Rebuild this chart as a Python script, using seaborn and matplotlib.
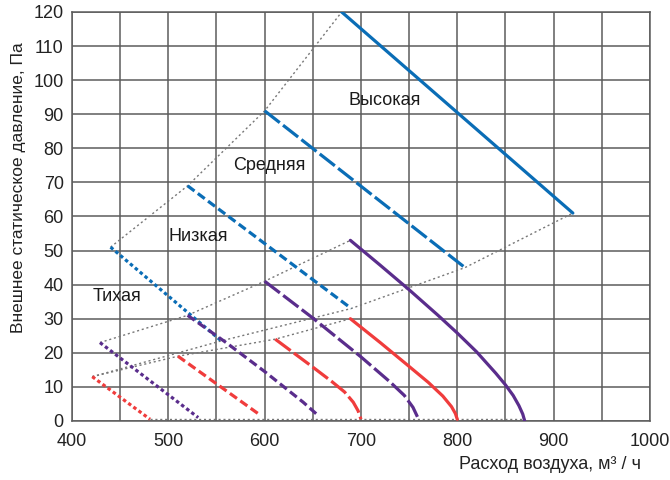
import numpy as np
import pandas as pd
import matplotlib
matplotlib.use("Agg")
import matplotlib.pyplot as plt
import seaborn as sns

# Data (air flow m3/h, static pressure Pa)
speeds = ["Тихая", "Низкая", "Средняя", "Высокая"]

# blue set (straight lines)
blue_x = {"Высокая": [680, 920], "Средняя": [600, 808],
          "Низкая": [520, 690], "Тихая": [440, 555]}
blue_y = {"Высокая": [120, 61], "Средняя": [91, 45],
          "Низкая": [69, 33], "Тихая": [51, 23.5]}

# purple set
purple_x = {"Высокая": [689, 720, 750, 780, 800, 820, 840, 850, 858, 864, 868, 870],
            "Средняя": [600, 650, 700, 730, 745, 754, 759],
            "Низкая": [520, 560, 600, 640, 656],
            "Тихая": [429, 531]}
purple_y = {"Высокая": [53, 45.7, 38.5, 31, 25.8, 20.3, 14, 10.6, 7.5, 4.5, 2, 0],
            "Средняя": [41, 30.2, 18.8, 11.5, 7.5, 4, 1],
            "Низкая": [31, 23, 14.5, 5.5, 1.5],
            "Тихая": [23, 1]}

# red set
red_x = {"Высокая": [689, 720, 750, 770, 785, 794, 798, 800],
         "Средняя": [611, 630, 650, 670, 683, 692, 697, 700],
         "Низкая": [510, 594],
         "Тихая": [421, 481]}
red_y = {"Высокая": [30, 23, 16, 11.3, 7.3, 4.2, 2.2, 0.5],
         "Средняя": [24, 20, 15.8, 11.5, 8.5, 5.5, 3, 0.5],
         "Низкая": [19, 2],
         "Тихая": [13, 0.5]}

# gray dotted envelopes
env_blue_start_x = [440, 520, 600, 680]
env_blue_start_y = [51, 69, 91, 120]
env_blue_end_x = [421, 555, 690, 808, 920]
env_blue_end_y = [13, 23.5, 33, 45, 61]
env_purple_x = [429, 520, 600, 689]
env_purple_y = [23, 31, 41, 53]
env_red_x = [421, 510, 611, 689]
env_red_y = [13, 19, 24, 30]
env_bottom_x = [481, 870]
env_bottom_y = [0.6, 0.6]

label_x = [447, 531, 605, 725]
label_y = [36.5, 54, 75, 94]

colors = {"blue": "#0a6db6", "purple": "#5a2d8c", "red": "#f03c3c"}
styles = {"Высокая": "-", "Средняя": (0, (6, 1.3)),
          "Низкая": (0, (2.7, 1.3)), "Тихая": (0, (1.1, 0.9))}

sns.set_theme(style="white")
plt.rcParams['font.family'] = ['Liberation Sans', 'DejaVu Sans']

fig = plt.figure(figsize=(6.7, 4.8), dpi=100)
ax = fig.add_axes([0.1075, 0.123, 0.8625, 0.852])

grid_c = "#5c5c5c"
for x in np.arange(400, 1001, 50):
    ax.axvline(x, color=grid_c, lw=1.1, zorder=1)
for y in np.arange(0, 121, 10):
    ax.axhline(y, color=grid_c, lw=1.1, zorder=1)

env_style = dict(color="#777777", lw=1.0, linestyle=(0, (1.5, 2.0)))
for ex, ey in [(env_blue_start_x, env_blue_start_y), (env_blue_end_x, env_blue_end_y),
               (env_purple_x, env_purple_y), (env_red_x, env_red_y),
               (env_bottom_x, env_bottom_y)]:
    sns.lineplot(x=ex, y=ey, sort=False, estimator=None, ax=ax, zorder=2, **env_style)

for xs, ys, c in [(blue_x, blue_y, "blue"), (purple_x, purple_y, "purple"), (red_x, red_y, "red")]:
    for s in speeds:
        sns.lineplot(x=xs[s], y=ys[s], sort=False, estimator=None, ax=ax,
                     color=colors[c], lw=2.3, linestyle=styles[s], zorder=3)

for s, lx, ly in zip(speeds, label_x, label_y):
    ax.text(lx, ly, s, ha="center", va="center", fontsize=13, color="#1a1a1a", zorder=4)

ax.set_xlim(400, 1000)
ax.set_ylim(0, 120)
ax.set_xticks(np.arange(400, 1001, 100))
ax.set_yticks(np.arange(0, 121, 10))
ax.tick_params(axis="both", length=0, labelsize=13, colors="#222222")
ax.tick_params(axis="x", pad=9)
ax.tick_params(axis="y", pad=6)
for sp in ax.spines.values():
    sp.set_color(grid_c)
    sp.set_linewidth(1.1)

ax.set_xlabel("Расход воздуха, м³ / ч", fontsize=13, color="#222222")
ax.xaxis.set_label_coords(0.985, -0.085)
ax.xaxis.label.set_ha("right")
ax.set_ylabel("Внешнее статическое давление, Па", fontsize=12.5, color="#222222")
ax.yaxis.set_label_coords(-0.08, 0.57)

fig.savefig("out.png", dpi=100)
